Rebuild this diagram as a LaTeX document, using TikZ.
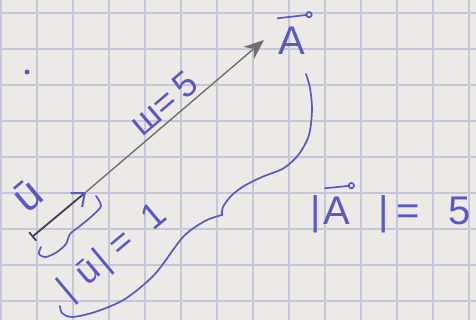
\documentclass[tikz,border=0pt]{standalone}
\usepackage{fontspec}
\setmainfont{Liberation Sans}
\usetikzlibrary{arrows.meta, positioning, calc}
\definecolor{paper}{RGB}{236,233,231}
\definecolor{gridblue}{RGB}{196,199,218}
\definecolor{ink}{RGB}{88,88,200}
\definecolor{pencil}{RGB}{112,112,112}
\definecolor{lead}{RGB}{64,64,84}

\begin{document}
\begin{tikzpicture}[
  x=1pt, y=-1pt,
  gridline/.style={draw=gridblue, line width=1.3pt},
  pen/.style={draw=ink, line width=1.7pt, line cap=round, line join=round},
  hand/.style={text=ink, inner sep=0pt, font=\fontsize{#1}{#1}\selectfont},
  hand/.default=36,
  arr/.style={-{Stealth[length=20pt, width=16pt]}, pencil, line width=1.4pt}
]
\fill[paper] (0,0) rectangle (476,320);
\useasboundingbox (0,0) rectangle (476,320);
\foreach \gx in {1,37,...,469} \draw[gridline] (\gx,0) -- (\gx,320);
\foreach \gy in {13,49,...,301} \draw[gridline] (0,\gy) -- (476,\gy);
\fill[ink] (27,72) circle (2.5);

% vectors
\coordinate (tail) at (32,237);
\coordinate (utip) at (86,192);
\coordinate (Atip) at (264,40);
\draw[arr] (utip) -- node[midway, sloped, above=4pt, hand=36] (ulen) {ш=\hspace{7pt}5} (Atip);
\draw[lead, line width=1.8pt, {Bar[width=11pt]}-{Straight Barb[ink, length=11pt, width=18pt, line width=2pt]}] (tail) -- (utip);

% labels
\node[hand=40, anchor=base] (vecA) at (292,55) {A};
\draw[pen, -{Circle[open, length=7pt]}] ($(vecA.north west)+(-1,-9)$) -- ($(vecA.north east)+(7,-13)$);
\node[hand=44, rotate=40] (ulabel) at (28,196) {ū};
\node[hand=36, rotate=40] (unorm) at (113,253) {|\hspace{14pt}ū\hspace{4pt}|\hspace{10pt}=\hspace{22pt}1};

\node[hand=40, anchor=base west] (normL) at (310,225) {|};
\node[hand=40, base right=3pt of normL] (normA) {A};
\node[hand=40, base right=27pt of normA] (normR) {|\hspace{8pt}=\hspace{29pt}5};
\draw[pen, -{Circle[open, length=7pt]}] ($(normA.north west)+(1,-9)$) -- ($(normA.north east)+(4,-12)$);

% brace and sweep
\draw[pen] plot[smooth] coordinates {(96,196) (101,206) (92,216) (80,226) (70,234) (66,244) (57,252) (46,257) (39,254) (41,247)};
\draw[pen] plot[smooth] coordinates {(306,74) (310,88) (312,110) (309,135) (299,154) (284,168) (262,177) (244,186) (231,196) (223,207) (222,215)};
\draw[pen] plot[smooth] coordinates {(222,215) (205,221) (183,237) (155,274) (125,299) (95,312) (72,317) (62,313) (60,306)};
\end{tikzpicture}
\end{document}
